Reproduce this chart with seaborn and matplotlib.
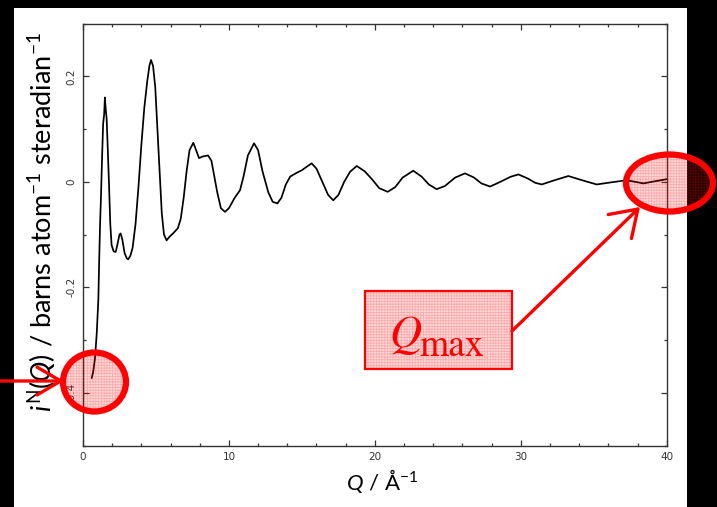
import matplotlib
matplotlib.use("Agg")
import matplotlib.pyplot as plt
import numpy as np
import pandas as pd
import seaborn as sns
from matplotlib.patches import Ellipse, Rectangle, FancyArrowPatch
from matplotlib.ticker import MultipleLocator

# Neutron interference function i^N(Q), read point by point
q = [0.6, 0.7, 0.82, 0.94, 1.05, 1.1, 1.17, 1.23, 1.3, 1.38, 1.45, 1.5, 1.55,
     1.62, 1.7, 1.78, 1.87, 1.96, 2.1, 2.24, 2.35, 2.5, 2.58, 2.7, 2.85, 3.0,
     3.1, 3.25, 3.4, 3.6, 3.8, 4.0, 4.2, 4.4, 4.55, 4.66, 4.8, 4.95, 5.1, 5.25,
     5.4, 5.55, 5.73, 5.9, 6.2, 6.5, 6.7, 6.9, 7.1, 7.3, 7.56, 7.75, 7.95, 8.2,
     8.57, 8.8, 9.0, 9.2, 9.45, 9.73, 10.0, 10.4, 10.76, 11.0, 11.3, 11.72,
     12.0, 12.3, 12.7, 13.0, 13.32, 13.6, 13.9, 14.2, 14.64, 15.0, 15.3, 15.67,
     16.0, 16.4, 16.8, 17.15, 17.5, 17.9, 18.3, 18.76, 19.3, 19.8, 20.3, 20.88,
     21.4, 21.9, 22.63, 23.2, 23.7, 24.23, 24.8, 25.5, 26.18, 26.8, 27.3, 27.9,
     28.6, 29.3, 29.84, 30.5, 31.0, 31.44, 32.2, 33.26, 34.2, 35.2, 36.2, 37.26,
     38.4, 39.2, 40.0]
i_n = [-0.372, -0.36, -0.335, -0.288, -0.225, -0.16, -0.08, -0.03, 0.04, 0.11,
       0.128, 0.16, 0.14, 0.12, 0.06, -0.003, -0.08, -0.12, -0.132, -0.133,
       -0.12, -0.10, -0.098, -0.11, -0.135, -0.145, -0.147, -0.14, -0.125,
       -0.08, -0.01, 0.07, 0.14, 0.19, 0.22, 0.231, 0.22, 0.18, 0.10, 0.02,
       -0.06, -0.10, -0.111, -0.105, -0.097, -0.088, -0.07, -0.03, 0.02, 0.06,
       0.074, 0.06, 0.045, 0.048, 0.05, 0.04, 0.01, -0.02, -0.05, -0.057,
       -0.05, -0.03, -0.016, 0.01, 0.05, 0.073, 0.06, 0.02, -0.02, -0.038,
       -0.041, -0.03, -0.005, 0.01, 0.017, 0.022, 0.028, 0.035, 0.025, 0.0,
       -0.025, -0.035, -0.025, 0.0, 0.019, 0.030, 0.02, 0.005, -0.012, -0.019,
       -0.01, 0.008, 0.021, 0.01, -0.005, -0.014, -0.008, 0.008, 0.016, 0.008,
       -0.003, -0.009, 0.0, 0.0095, 0.014, 0.006, -0.002, -0.005, 0.002, 0.011,
       0.003, -0.005, -0.001, 0.003, -0.003, 0.001, 0.005]

x_ticks = [0, 10, 20, 30, 40]
x_tick_labels = ["0", "10", "20", "30", "40"]
y_ticks = [-0.4, -0.2, 0.0, 0.2]
y_tick_labels = ["-0.4", "-0.2", "0", "0.2"]

df = pd.DataFrame({"Q": q, "iN": i_n})

sns.set_theme(style="ticks")
plt.rcParams.update({
    "font.family": ["DejaVu Sans"],
    "mathtext.fontset": "custom",
    "mathtext.rm": "Lato",
    "mathtext.it": "Lato:italic",
    "mathtext.bf": "Lato:bold",
    "axes.edgecolor": "#333333",
    "axes.linewidth": 1.0,
    "hatch.linewidth": 0.6,
})

W, H = 717, 507
fig = plt.figure(figsize=(W / 100, H / 100), dpi=100)
fig.patch.set_facecolor("black")
fig.add_artist(Rectangle((14 / W, 0), (687 - 14) / W, 1 - 8 / H,
                         transform=fig.transFigure, facecolor="white",
                         edgecolor="none", zorder=-1))

ax = fig.add_axes([83 / W, 1 - 445.5 / H, (666.7 - 83) / W, (445.5 - 23.6) / H])
ax.set_facecolor("white")
sns.lineplot(data=df, x="Q", y="iN", ax=ax, color="black", linewidth=1.25,
             estimator=None, sort=False)

ax.set_xlim(0, 40)
ax.set_ylim(-0.5, 0.3)
ax.set_xticks(x_ticks, labels=x_tick_labels)
ax.set_yticks(y_ticks, labels=y_tick_labels, rotation=90, va="center")
ax.xaxis.set_minor_locator(MultipleLocator(2))
ax.yaxis.set_minor_locator(MultipleLocator(0.1))
ax.tick_params(which="both", direction="in", top=True, right=True,
               color="#333333", width=0.9, labelsize=7.5, labelcolor="#333333",
               pad=5)
ax.tick_params(which="major", length=4.3)
ax.tick_params(which="minor", length=2.4)
for s in ax.spines.values():
    s.set_visible(True)

ax.set_xlabel(r"$Q$ / Å$^{-1}$", fontsize=16, family="Lato", color="black")
ax.xaxis.label.set_va("center")
ax.xaxis.set_label_coords((382 - 83) / 583.7, -(481 - 445.5) / 421.9)
ax.set_ylabel(r"$i^{\mathrm{N}}(Q)$ / barns atom$^{-1}$ steradian$^{-1}$",
              fontsize=19.5, family="Lato", color="black")
ax.yaxis.label.set_va("center")
ax.yaxis.set_label_coords((42 - 83) / 583.7, 1 - (222 - 23.6) / 421.9)


def fx(x):
    return x / W


def fy(y):
    return 1 - y / H


red = "#ff0000"
pink = (1.0, 0.0, 0.0, 0.14)
grid = (1.0, 0.0, 0.0, 0.22)


def marked(patch_cls, *args, lw, **kw):
    """Filled red marker with a fine grid texture and a solid red outline."""
    fig.add_artist(patch_cls(*args, transform=fig.transFigure, facecolor=pink,
                             edgecolor=grid, hatch="++++++", linewidth=0,
                             zorder=5, **kw))
    fig.add_artist(patch_cls(*args, transform=fig.transFigure,
                             facecolor="none", edgecolor=red, linewidth=lw,
                             zorder=5, **kw))


# Low-Q region marker and arrow from the left edge
marked(Ellipse, (fx(94.5), fy(382)), 63 / W, 59 / H, lw=4.5)
fig.add_artist(FancyArrowPatch((fx(0), fy(381)), (fx(64), fy(381)),
                               transform=fig.transFigure,
                               arrowstyle="->,head_length=0.85,head_width=0.5",
                               mutation_scale=20, color=red, linewidth=2.4,
                               shrinkA=0, shrinkB=0, zorder=6))

# High-Q cut-off marker
marked(Ellipse, (fx(669.5), fy(183)), 87 / W, 57 / H, lw=4.5)

# Q_max label box and its arrow
marked(Rectangle, (fx(365), fy(369)), (512 - 365) / W, (369 - 291) / H, lw=1.6)
fig.text(fx(389), fy(347), "Q", fontsize=32, color=red, family="STIXGeneral",
         style="italic", ha="left", va="baseline", zorder=6)
fig.text(fx(419), fy(356), "max", fontsize=27, color=red, family="STIXGeneral",
         ha="left", va="baseline", zorder=6)
fig.add_artist(FancyArrowPatch((fx(512), fy(331)), (fx(640), fy(207)),
                               transform=fig.transFigure,
                               arrowstyle="->,head_length=0.9,head_width=0.6",
                               mutation_scale=20, color=red, linewidth=2.4,
                               shrinkA=0, shrinkB=0, zorder=6))

fig.savefig("out.png", dpi=100, facecolor=fig.get_facecolor())
